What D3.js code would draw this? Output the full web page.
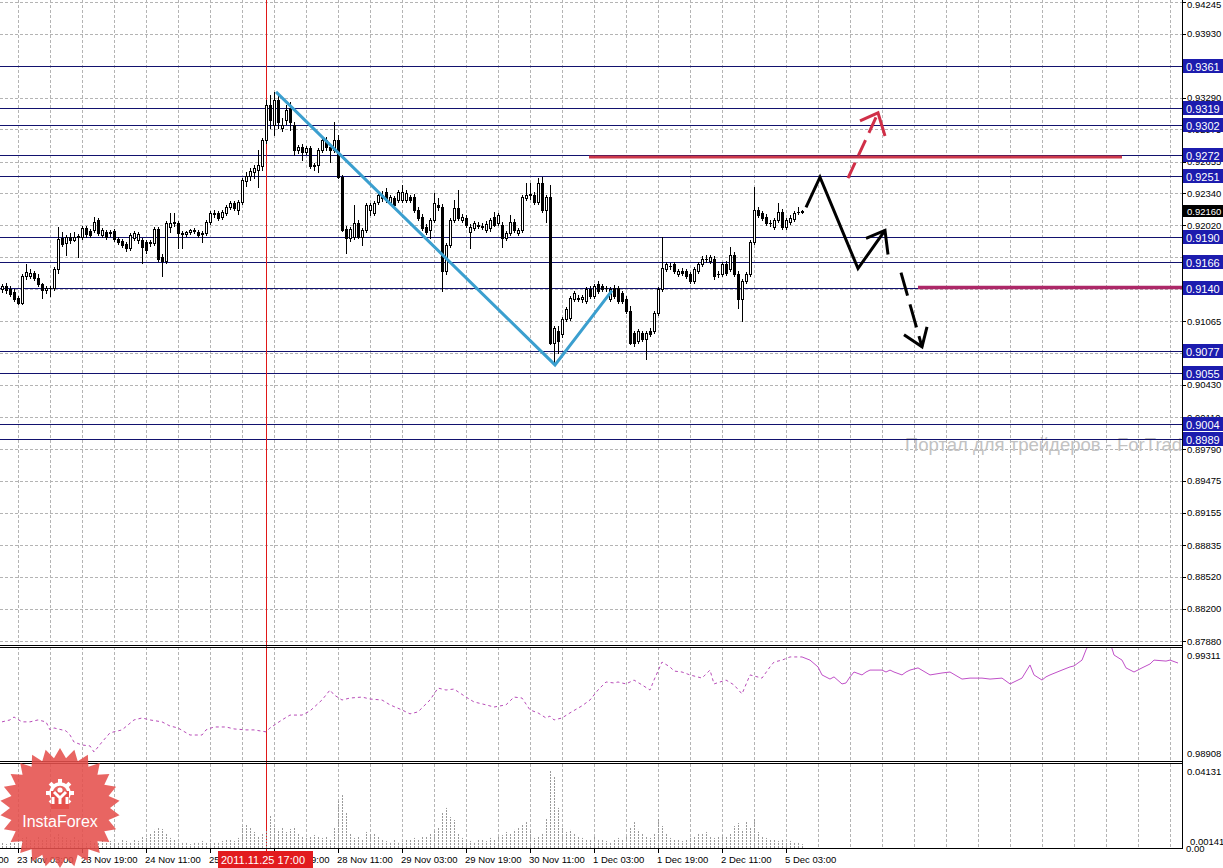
<!DOCTYPE html>
<html><head><meta charset="utf-8">
<script src="https://cdn.jsdelivr.net/npm/d3@7"></script>
<style>
body{margin:0;background:#fff;}
svg{display:block;}
text{font-family:"Liberation Sans",Arial,sans-serif;}
</style></head>
<body><svg id="c" width="1223" height="868"></svg>
<script>
// ---------- DATA ----------
// H1 candles [open, high, low, close], bar 0 = 22 Nov 23:00
const candleOHLC = [
[0.9139,0.9144,0.9136,0.9142],[0.9142,0.9145,0.9135,0.9138],[0.9139,0.9142,0.9132,0.9134],[0.9136,0.9139,0.9127,0.9129],
[0.9130,0.9132,0.9124,0.9125],[0.9125,0.9154,0.9124,0.9152],[0.9152,0.9164,0.9149,0.9156],[0.9152,0.9159,0.9150,0.9155],
[0.9155,0.9157,0.9148,0.9150],[0.9150,0.9154,0.9142,0.9144],[0.9144,0.9145,0.9130,0.9138],[0.9138,0.9142,0.9135,0.9140],
[0.9140,0.9142,0.9132,0.9140],[0.9140,0.9161,0.9138,0.9159],[0.9159,0.9200,0.9155,0.9188],[0.9189,0.9195,0.9181,0.9183],
[0.9184,0.9192,0.9172,0.9190],[0.9190,0.9194,0.9184,0.9187],[0.9187,0.9195,0.9186,0.9190],[0.9190,0.9193,0.9170,0.9191],
[0.9190,0.9201,0.9188,0.9199],[0.9199,0.9201,0.9190,0.9193],[0.9196,0.9198,0.9190,0.9192],[0.9197,0.9210,0.9195,0.9205],
[0.9207,0.9209,0.9192,0.9194],[0.9192,0.9199,0.9190,0.9197],[0.9195,0.9197,0.9188,0.9190],[0.9194,0.9197,0.9191,0.9195],
[0.9196,0.9198,0.9186,0.9188],[0.9188,0.9190,0.9183,0.9185],[0.9186,0.9188,0.9180,0.9182],[0.9183,0.9185,0.9176,0.9179],
[0.9179,0.9194,0.9177,0.9192],[0.9189,0.9196,0.9187,0.9194],[0.9187,0.9195,0.9184,0.9193],[0.9187,0.9189,0.9165,0.9180],
[0.9185,0.9187,0.9174,0.9177],[0.9184,0.9187,0.9181,0.9185],[0.9184,0.9200,0.9182,0.9198],[0.9198,0.9200,0.9167,0.9169],
[0.9170,0.9173,0.9152,0.9167],[0.9167,0.9206,0.9165,0.9204],[0.9200,0.9214,0.9195,0.9204],[0.9204,0.9214,0.9201,0.9205],
[0.9204,0.9206,0.9179,0.9194],[0.9194,0.9196,0.9179,0.9193],[0.9193,0.9196,0.9191,0.9195],[0.9195,0.9198,0.9193,0.9197],
[0.9197,0.9199,0.9194,0.9196],[0.9195,0.9197,0.9190,0.9192],[0.9193,0.9196,0.9185,0.9194],[0.9194,0.9207,0.9192,0.9205],
[0.9205,0.9216,0.9203,0.9214],[0.9214,0.9217,0.9210,0.9213],[0.9214,0.9216,0.9207,0.9209],[0.9210,0.9217,0.9208,0.9215],
[0.9214,0.9222,0.9212,0.9220],[0.9220,0.9226,0.9218,0.9224],[0.9224,0.9226,0.9217,0.9219],[0.9217,0.9227,0.9213,0.9225],
[0.9225,0.9249,0.9223,0.9247],[0.9246,0.9255,0.9241,0.9251],[0.9251,0.9259,0.9247,0.9256],[0.9255,0.9262,0.9249,0.9259],
[0.9257,0.9277,0.9240,0.9262],[0.9261,0.9289,0.9257,0.9287],[0.9287,0.9327,0.9284,0.9322],[0.9322,0.9332,0.9299,0.9307],
[0.9302,0.9335,0.9292,0.9327],[0.9327,0.9331,0.9299,0.9305],[0.9299,0.9309,0.9296,0.9302],[0.9307,0.9322,0.9303,0.9317],
[0.9319,0.9325,0.9297,0.9305],[0.9302,0.9305,0.9272,0.9277],[0.9277,0.9282,0.9274,0.9280],[0.9280,0.9283,0.9267,0.9275],
[0.9275,0.9281,0.9273,0.9279],[0.9279,0.9281,0.9259,0.9261],[0.9261,0.9264,0.9257,0.9262],[0.9262,0.9279,0.9255,0.9277],
[0.9277,0.9289,0.9275,0.9287],[0.9287,0.9290,0.9277,0.9280],[0.9280,0.9283,0.9265,0.9277],[0.9277,0.9305,0.9275,0.9287],
[0.9287,0.9292,0.9249,0.9250],[0.9250,0.9252,0.9196,0.9197],[0.9198,0.9201,0.9174,0.9189],[0.9189,0.9200,0.9186,0.9198],
[0.9190,0.9222,0.9188,0.9204],[0.9204,0.9207,0.9189,0.9190],[0.9190,0.9199,0.9182,0.9197],[0.9197,0.9224,0.9195,0.9222],
[0.9217,0.9224,0.9212,0.9222],[0.9214,0.9226,0.9212,0.9224],[0.9225,0.9234,0.9223,0.9232],[0.9232,0.9236,0.9226,0.9229],
[0.9235,0.9239,0.9225,0.9227],[0.9225,0.9232,0.9223,0.9230],[0.9229,0.9231,0.9220,0.9222],[0.9227,0.9237,0.9225,0.9235],
[0.9227,0.9242,0.9225,0.9235],[0.9227,0.9237,0.9225,0.9234],[0.9230,0.9232,0.9225,0.9227],[0.9230,0.9233,0.9215,0.9217],
[0.9217,0.9220,0.9207,0.9209],[0.9210,0.9213,0.9197,0.9199],[0.9200,0.9203,0.9193,0.9195],[0.9197,0.9209,0.9189,0.9207],
[0.9207,0.9234,0.9205,0.9224],[0.9222,0.9229,0.9217,0.9220],[0.9220,0.9223,0.9137,0.9157],[0.9157,0.9184,0.9154,0.9182],
[0.9182,0.9209,0.9180,0.9207],[0.9207,0.9227,0.9205,0.9219],[0.9219,0.9237,0.9207,0.9209],[0.9207,0.9213,0.9205,0.9210],
[0.9209,0.9212,0.9200,0.9202],[0.9195,0.9203,0.9179,0.9200],[0.9199,0.9206,0.9197,0.9204],[0.9202,0.9205,0.9199,0.9201],
[0.9201,0.9204,0.9198,0.9200],[0.9197,0.9206,0.9195,0.9203],[0.9199,0.9209,0.9196,0.9207],[0.9210,0.9215,0.9201,0.9202],
[0.9204,0.9214,0.9202,0.9212],[0.9202,0.9205,0.9180,0.9189],[0.9189,0.9196,0.9187,0.9194],[0.9194,0.9212,0.9192,0.9205],
[0.9205,0.9208,0.9195,0.9197],[0.9194,0.9199,0.9192,0.9197],[0.9197,0.9232,0.9195,0.9230],[0.9229,0.9244,0.9227,0.9232],
[0.9232,0.9244,0.9228,0.9233],[0.9232,0.9235,0.9223,0.9225],[0.9225,0.9249,0.9223,0.9244],[0.9244,0.9250,0.9215,0.9217],
[0.9217,0.9232,0.9205,0.9230],[0.9230,0.9242,0.9084,0.9085],[0.9085,0.9102,0.9065,0.9100],[0.9097,0.9102,0.9075,0.9087],
[0.9094,0.9111,0.9091,0.9109],[0.9109,0.9121,0.9107,0.9119],[0.9110,0.9132,0.9108,0.9130],[0.9129,0.9137,0.9127,0.9135],
[0.9130,0.9133,0.9127,0.9129],[0.9129,0.9133,0.9126,0.9131],[0.9127,0.9141,0.9125,0.9139],[0.9139,0.9142,0.9130,0.9132],
[0.9132,0.9144,0.9130,0.9142],[0.9144,0.9147,0.9135,0.9137],[0.9142,0.9144,0.9137,0.9139],[0.9140,0.9142,0.9137,0.9140],
[0.9129,0.9141,0.9127,0.9139],[0.9140,0.9143,0.9130,0.9132],[0.9140,0.9142,0.9125,0.9127],[0.9135,0.9137,0.9125,0.9127],
[0.9129,0.9132,0.9115,0.9117],[0.9117,0.9122,0.9084,0.9085],[0.9095,0.9097,0.9082,0.9085],[0.9087,0.9099,0.9085,0.9097],
[0.9095,0.9097,0.9087,0.9089],[0.9089,0.9097,0.9069,0.9095],[0.9097,0.9100,0.9092,0.9094],[0.9097,0.9117,0.9095,0.9115],
[0.9115,0.9141,0.9113,0.9139],[0.9139,0.9190,0.9137,0.9160],[0.9159,0.9166,0.9157,0.9164],[0.9162,0.9165,0.9159,0.9162],
[0.9164,0.9166,0.9155,0.9157],[0.9154,0.9159,0.9152,0.9157],[0.9157,0.9160,0.9153,0.9155],[0.9157,0.9159,0.9150,0.9152],
[0.9154,0.9156,0.9145,0.9147],[0.9147,0.9161,0.9145,0.9159],[0.9157,0.9166,0.9155,0.9164],[0.9164,0.9171,0.9162,0.9169],
[0.9169,0.9172,0.9166,0.9169],[0.9167,0.9172,0.9165,0.9170],[0.9169,0.9171,0.9149,0.9152],[0.9154,0.9157,0.9151,0.9154],
[0.9154,0.9166,0.9152,0.9164],[0.9164,0.9167,0.9153,0.9155],[0.9159,0.9180,0.9157,0.9172],[0.9172,0.9175,0.9152,0.9154],
[0.9154,0.9157,0.9120,0.9129],[0.9129,0.9149,0.9107,0.9147],[0.9147,0.9156,0.9145,0.9154],[0.9154,0.9187,0.9152,0.9185],
[0.9185,0.9240,0.9183,0.9217],[0.9217,0.9220,0.9210,0.9212],[0.9214,0.9216,0.9207,0.9209],[0.9210,0.9213,0.9202,0.9204],
[0.9204,0.9207,0.9201,0.9204],[0.9200,0.9209,0.9198,0.9207],[0.9207,0.9224,0.9205,0.9215],[0.9215,0.9218,0.9198,0.9200],
[0.9200,0.9209,0.9198,0.9207],[0.9205,0.9212,0.9203,0.9209],[0.9208,0.9216,0.9206,0.9214],[0.9215,0.9220,0.9213,0.9215],
[0.9215,0.9217,0.9214,0.9216]
];

// Lower panel "volume" histogram, one value per bar
const volumeValues = [
.0027,.0021,.0032,.0027,.0038,
.0054,.0064,.0048,.0043,.0059,.0043,.0054,.0038,.0064,.0080,.0064,.0054,.0048,.0059,.0043,
.0032,.0027,.0038,.0032,.0027,.0043,.0032,.0038,.0027,.0032,.0048,.0038,.0032,.0043,.0038,
.0064,.0054,.0080,.0097,.0107,.0102,.0075,.0054,.0043,.0032,.0027,
.0027,.0021,.0032,.0027,.0038,.0032,.0043,.0027,.0032,.0038,.0043,.0048,.0038,
.0054,.0118,.0129,.0107,.0086,.0064,.0075,
.0097,.0177,.0118,.0097,.0107,.0086,.0102,.0113,.0075,.0064,
.0054,.0064,.0070,.0059,.0054,.0064,.0048,
.0107,.0258,.0284,.0188,.0080,
.0054,.0064,.0043,.0086,.0075,.0080,.0064,.0048,
.0038,.0032,.0043,.0027,.0038,.0048,.0043,.0054,.0048,.0064,.0059,
.0075,.0097,.0107,.0188,.0215,.0166,.0150,.0080,
.0054,.0043,.0038,.0032,.0048,.0043,.0038,.0054,.0048,.0064,
.0070,.0086,.0075,.0097,.0107,.0129,.0139,.0097,.0054,
.0064,.0080,.0161,.0413,.0386,.0215,.0107,
.0086,.0097,.0075,.0064,.0054,.0048,.0043,.0059,.0048,.0043,
.0038,.0032,.0043,.0054,.0048,.0064,.0107,.0139,.0097,.0075,
.0064,.0054,.0080,.0161,.0118,.0075,.0054,.0043,.0048,.0038,
.0043,.0054,.0064,.0080,.0075,.0086,.0064,.0054,.0059,.0070,
.0064,.0075,.0118,.0134,.0097,.0145,.0107,.0161,.0086,.0064,
.0054,.0043,.0048,.0038,.0043,.0032,.0038,.0027,.0032,.0021
];

// Overlay line in the middle panel (bar position, value)
const overlayBars = [0,2,3,5,7,9,11,12,13,16,17,18,20,22,23,25,27,30,33,35,37,40,42,44,47,50,51,53,56,58,61,63,66,67,70,72,75,77,80,82,83,85,87,90,92,95,97,100,102,104,107,109,111,113,116,118,121,123,126,128,130,132,134,136,137,138,140,142,145,147,149,151,153,154,156,158,160,162,163,165,167,168,170,172,175,177,178,181,183,185,187,190,192,193,195,197,
200,202,204,205,207,208,210,211,212,213,215,216,217,220,221,222,223,225,226,227,229,232,235,237,240,242,245,247,250,252,255,257,258,260,261,262,265,267,268,270,271,272,277,278,280,281,283,285,287,288,291,292,294];
const overlayValues = [0.99036,0.99044,0.99056,0.99036,0.99036,0.99044,0.99036,0.99003,0.99011,0.98999,0.98982,0.98953,0.98941,0.98937,0.98912,0.98953,0.98991,0.99003,0.99044,0.99052,0.99044,0.99036,0.99019,0.99011,0.98982,0.98982,0.99003,0.99015,0.99015,0.99007,0.99003,0.99003,0.98995,0.99011,0.99044,0.99064,0.99064,0.99081,0.99126,0.99167,0.99147,0.99126,0.99134,0.99138,0.99130,0.99126,0.99106,0.99085,0.99069,0.99077,0.99126,0.99175,0.99167,0.99171,0.99138,0.99118,0.99106,0.99097,0.99106,0.99138,0.99134,0.99085,0.99073,0.99052,0.99060,0.99044,0.99052,0.99073,0.99102,0.99126,0.99167,0.99200,0.99196,0.99200,0.99192,0.99208,0.99188,0.99167,0.99208,0.99282,0.99262,0.99245,0.99241,0.99229,0.99216,0.99249,0.99192,0.99208,0.99188,0.99151,0.99229,0.99216,0.99262,0.99282,0.99290,0.99303,
0.99303,0.99290,0.99262,0.99229,0.99212,0.99221,0.99192,0.99196,0.99221,0.99241,0.99229,0.99241,0.99249,0.99249,0.99241,0.99249,0.99241,0.99229,0.99241,0.99249,0.99258,0.99229,0.99237,0.99241,0.99212,0.99216,0.99216,0.99212,0.99216,0.99192,0.99216,0.99270,0.99229,0.99208,0.99221,0.99229,0.99249,0.99262,0.99266,0.99290,0.99332,0.99364,0.99364,0.99311,0.99290,0.99258,0.99241,0.99258,0.99274,0.99290,0.99286,0.99290,0.99278];
const overlayDashedUntilBar = 200;

// Price axis ticks
const priceTicks = [0.94245,0.93930,0.93610,0.93290,0.92975,0.92655,0.92340,0.92020,0.91700,0.91385,0.91065,0.90745,0.90430,0.90110,0.89790,0.89475,0.89155,0.88835,0.88520,0.88200,0.87880];
// Horizontal levels (navy lines with blue price tags)
const levelPrices = [0.9361,0.9319,0.9302,0.9272,0.9251,0.9190,0.9166,0.9140,0.9077,0.9055,0.9004,0.8989];
const currentPrice = 0.92160;
const overlayTicks = [0.99311, 0.98908];
const volumeTicks = [0.04131, 0.00141];

// Time axis labels (bar index -> label)
const timeLabelBars = [-12,4,20,36,52,68,84,100,116,132,148,164,180,196];
const timeLabels = ["22 Nov 11:00","23 Nov 03:00","23 Nov 19:00","24 Nov 11:00","25 Nov 03:00","25 Nov 19:00","28 Nov 11:00","29 Nov 03:00","29 Nov 19:00","30 Nov 11:00","1 Dec 03:00","1 Dec 19:00","2 Dec 11:00","5 Dec 03:00"];
const cursorBar = 66, cursorLabel = "2011.11.25 17:00";

// Analyst drawings (bar position, price)
const trendBars = [68.5, 138.25, 152.5];
const trendPrices = [0.9335, 0.9063, 0.9137];
const forecastBars = [201, 204.5, 214, 220.75];
const forecastPrices = [0.9220, 0.9250, 0.9159, 0.9197];
const forecastHeadBars = [216, 220.75, 221.5];
const forecastHeadPrices = [0.9189, 0.9197, 0.9173];
const downBars = [224.75, 230];
const downPrices = [0.9155, 0.9081];
const downHeadBars = [225.5, 230, 231.25];
const downHeadPrices = [0.9093, 0.9081, 0.9101];
const upBars = [211.5, 219];
const upPrices = [0.9249, 0.9314];
const upHeadBars = [214.5, 219, 220.75];
const upHeadPrices = [0.9306, 0.9314, 0.9291];
const resistanceBars = [146.75, 280], resistancePrice = 0.9270;
const supportBars = [229, 296], supportPrice = 0.9140;

// ---------- DRAWING ----------
const svg = d3.select("#c");
const AX = 1182;
const x = d3.scaleLinear().domain([0, 295]).range([2, 1182]);
const y = d3.scaleLinear().domain([0.87880, 0.94245]).range([641, 2]);
const yInd = d3.scaleLinear().domain([0.98908, 0.99311]).range([753, 655]);
const yVol = d3.scaleLinear().domain([0, 0.04131]).range([848, 771]);
const panels = {main:[0,645], ind:[647,762], vol:[764,849]};
const cr = v => Math.round(v) + 0.5;

const defs = svg.append("defs");
Object.entries(panels).forEach(([k,[t,b]]) => {
  defs.append("clipPath").attr("id","clip-"+k).append("rect").attr("x",0).attr("y",t).attr("width",AX).attr("height",b-t);
});

svg.append("rect").attr("width",1223).attr("height",868).attr("fill","#fff");

// vertical grid in all panels
const gridBars = d3.range(4, 296, 8);
Object.entries(panels).forEach(([k,[t,b]]) => {
  svg.append("g").selectAll("line").data(gridBars).join("line")
    .attr("x1", d => cr(x(d))).attr("x2", d => cr(x(d)))
    .attr("y1", t).attr("y2", b)
    .attr("stroke", "#b4b4b4").attr("stroke-dasharray", "3,2").attr("stroke-width", 1);
});
// horizontal grid
svg.append("g").selectAll("line").data(priceTicks).join("line")
  .attr("x1", 0).attr("x2", AX)
  .attr("y1", d => cr(y(d))).attr("y2", d => cr(y(d)))
  .attr("stroke", "#b4b4b4").attr("stroke-dasharray", "3,2");

// watermark
svg.append("text").attr("clip-path","url(#clip-main)")
  .attr("x", 905).attr("y", 451)
  .attr("font-size", 18.5).attr("fill", "#c2c2c2")
  .text("Портал для трейдеров - ForTrader");

// level lines
svg.append("g").selectAll("line").data(levelPrices).join("line")
  .attr("x1", 0).attr("x2", AX)
  .attr("y1", d => cr(y(d))).attr("y2", d => cr(y(d)))
  .attr("stroke", "#12126e").attr("stroke-width", 1);

// red cursor vertical line
svg.append("line").attr("x1", cr(x(cursorBar))).attr("x2", cr(x(cursorBar)))
  .attr("y1", 0).attr("y2", 851).attr("stroke", "#e01818").attr("stroke-width", 1);

// candles
const cg = svg.append("g").attr("clip-path", "url(#clip-main)");
candleOHLC.forEach((c, i) => {
  const [o, h, l, cl] = c;
  const xi = Math.round(x(i));
  cg.append("line").attr("x1", xi + 0.5).attr("x2", xi + 0.5)
    .attr("y1", Math.round(y(h))).attr("y2", Math.round(y(l)) + 1)
    .attr("stroke", "#000").attr("stroke-width", 1);
  const top = Math.round(y(Math.max(o, cl))), bot = Math.round(y(Math.min(o, cl)));
  if (bot - top < 1) {
    cg.append("line").attr("x1", xi - 1).attr("x2", xi + 2)
      .attr("y1", top + 0.5).attr("y2", top + 0.5).attr("stroke", "#000");
  } else {
    cg.append("rect").attr("x", xi - 0.5).attr("y", top + 0.5)
      .attr("width", 2).attr("height", bot - top)
      .attr("fill", cl >= o ? "#fff" : "#000").attr("stroke", "#000").attr("stroke-width", 1);
  }
});

// analyst drawings
const pl = (bars, prices) => d3.line()(bars.map((b, i) => [x(b), y(prices[i])]));
const dg = svg.append("g").attr("clip-path", "url(#clip-main)").attr("fill", "none").attr("stroke-linecap", "butt");
dg.append("path").attr("d", pl(resistanceBars, [resistancePrice, resistancePrice]))
  .attr("stroke", "#c8283c").attr("stroke-width", 3).attr("opacity", 0.92);
dg.append("path").attr("d", pl(supportBars, [supportPrice, supportPrice]))
  .attr("stroke", "#ad2868").attr("stroke-width", 3.5);
dg.append("path").attr("d", pl(trendBars, trendPrices))
  .attr("stroke", "#3b9fcf").attr("stroke-width", 3).attr("stroke-linejoin", "miter");
dg.append("path").attr("d", pl(forecastBars, forecastPrices))
  .attr("stroke", "#000").attr("stroke-width", 3).attr("stroke-linejoin", "miter");
dg.append("path").attr("d", pl(forecastHeadBars, forecastHeadPrices))
  .attr("stroke", "#000").attr("stroke-width", 3);
dg.append("path").attr("d", pl(downBars, downPrices))
  .attr("stroke", "#000").attr("stroke-width", 3).attr("stroke-dasharray", "24,9");
dg.append("path").attr("d", pl(downHeadBars, downHeadPrices))
  .attr("stroke", "#000").attr("stroke-width", 3);
dg.append("path").attr("d", pl(upBars, upPrices))
  .attr("stroke", "#d02f48").attr("stroke-width", 3).attr("stroke-dasharray", "17,8");
dg.append("path").attr("d", pl(upHeadBars, upHeadPrices))
  .attr("stroke", "#d02f48").attr("stroke-width", 3);

// overlay line (middle panel)
const ovl = overlayBars.map((b, i) => [b, overlayValues[i]]);
const ovLine = d3.line().x(d => x(d[0])).y(d => yInd(d[1]));
const ig = svg.append("g").attr("clip-path", "url(#clip-ind)").attr("fill", "none");
ig.append("path").attr("d", ovLine(ovl.filter(d => d[0] <= overlayDashedUntilBar)))
  .attr("stroke", "#b84cb8").attr("stroke-width", 1).attr("stroke-dasharray", "3,3");
ig.append("path").attr("d", ovLine(ovl.filter(d => d[0] >= overlayDashedUntilBar)))
  .attr("stroke", "#c050c8").attr("stroke-width", 1);

// volume histogram
svg.append("g").attr("clip-path", "url(#clip-vol)").selectAll("line").data(volumeValues).join("line")
  .attr("x1", (d, i) => cr(x(i))).attr("x2", (d, i) => cr(x(i)))
  .attr("y1", yVol(0)).attr("y2", d => yVol(d))
  .attr("stroke", "#9a9a9a").attr("stroke-width", 1).attr("stroke-dasharray", "2,1");

// panel borders
[[645.5],[647.5],[761.5],[763.5],[848.5]].forEach(([yy]) => {
  svg.append("line").attr("x1", 0).attr("x2", AX + 1).attr("y1", yy).attr("y2", yy).attr("stroke", "#000");
});
svg.append("line").attr("x1", AX + 0.5).attr("x2", AX + 0.5).attr("y1", 0).attr("y2", 849).attr("stroke", "#000");

// right axis ticks and labels
const ra = svg.append("g");
ra.selectAll("line").data(priceTicks).join("line")
  .attr("x1", AX).attr("x2", AX + 4).attr("y1", d => cr(y(d))).attr("y2", d => cr(y(d))).attr("stroke", "#000");
ra.selectAll("text").data(priceTicks).join("text")
  .attr("x", AX + 5).attr("y", d => Math.max(y(d) + 3.5, 8))
  .attr("font-size", 9.5).attr("fill", "#000").text(d => d.toFixed(5));
svg.selectAll(".ot").data(overlayTicks).join("text").attr("class","ot")
  .attr("x", AX + 5).attr("y", d => yInd(d) + 4).attr("font-size", 9.5).text(d => d.toFixed(5));
svg.selectAll(".vt").data(volumeTicks).join("text").attr("class","vt")
  .attr("x", d => AX + (d > 0.01 ? 5 : 8)).attr("y", d => d > 0.01 ? yVol(d) + 4 : 845)
  .attr("font-size", 9.5).text(d => d.toFixed(5));
svg.append("text").attr("x", AX + 4).attr("y", 852).attr("font-size", 9.5).text(d3.format(".2f")(0));

// level tags
const lt = svg.append("g").selectAll("g").data(levelPrices).join("g");
lt.append("rect").attr("x", AX + 1).attr("y", d => Math.round(y(d)) - 7).attr("width", 40).attr("height", 14).attr("fill", "#1c1cae");
lt.append("text").attr("x", AX + 4).attr("y", d => Math.round(y(d)) + 4.5)
  .attr("font-size", 11).attr("fill", "#fff").text(d => d.toFixed(4));
// current price tag
svg.append("rect").attr("x", AX + 1).attr("y", Math.round(y(currentPrice)) - 6).attr("width", 40).attr("height", 12).attr("fill", "#000");
svg.append("text").attr("x", AX + 5).attr("y", Math.round(y(currentPrice)) + 4)
  .attr("font-size", 9.5).attr("fill", "#fff").text(currentPrice.toFixed(5));

// time axis
const ta = svg.append("g");
ta.selectAll("line").data(timeLabelBars).join("line")
  .attr("x1", d => cr(x(d))).attr("x2", d => cr(x(d))).attr("y1", 849).attr("y2", 853).attr("stroke", "#000");
ta.selectAll("text").data(timeLabelBars).join("text")
  .attr("x", d => x(d) - 1).attr("y", 863).attr("font-size", 9.5).text((d, i) => timeLabels[i]);
// cursor time tag
svg.append("rect").attr("x", x(cursorBar) - 48).attr("y", 851).attr("width", 95).attr("height", 17).attr("fill", "#e21b1e");
svg.append("text").attr("x", x(cursorBar) - 45).attr("y", 864).attr("font-size", 11).attr("fill", "#fff").text(cursorLabel);

// InstaForex badge
const bx = 60, by = 808, nPts = 26;
const starPts = d3.range(nPts * 2).map(k => {
  const a = k * Math.PI / nPts - Math.PI / 2, r = k % 2 ? 50 : 60;
  return [bx + r * Math.cos(a), by + r * Math.sin(a)];
});
const badge = svg.append("g");
badge.append("path").attr("d", d3.line()(starPts) + "Z").attr("fill", "#e5504c").attr("opacity", 0.88);
const gx = 60, gy = 793;
badge.append("circle").attr("cx", gx).attr("cy", gy).attr("r", 9).attr("fill", "none").attr("stroke", "#fff").attr("stroke-width", 3.5);
d3.range(8).forEach(k => {
  const a = k * Math.PI / 4;
  badge.append("rect").attr("x", gx - 2).attr("y", gy - 14).attr("width", 4).attr("height", 5)
    .attr("fill", "#fff").attr("transform", `rotate(${a * 180 / Math.PI},${gx},${gy})`);
});
badge.append("rect").attr("x", gx - 9).attr("y", gy - 2).attr("width", 18).attr("height", 18).attr("fill", "#e5504c");
badge.append("circle").attr("cx", gx).attr("cy", gy - 3).attr("r", 2.6).attr("fill", "#fff");
badge.append("path").attr("d", `M${gx-6},${gy-1} L${gx},${gy+5} L${gx+6},${gy-1} M${gx},${gy+5} L${gx},${gy+11} M${gx-7},${gy+11} L${gx-7},${gy+4} M${gx+7},${gy+11} L${gx+7},${gy+4}`)
  .attr("stroke", "#fff").attr("stroke-width", 3).attr("fill", "none");
badge.append("text").attr("x", 60).attr("y", 827).attr("text-anchor", "middle")
  .attr("font-size", 16).attr("fill", "#fff").text("InstaForex");
</script>
</body></html>
